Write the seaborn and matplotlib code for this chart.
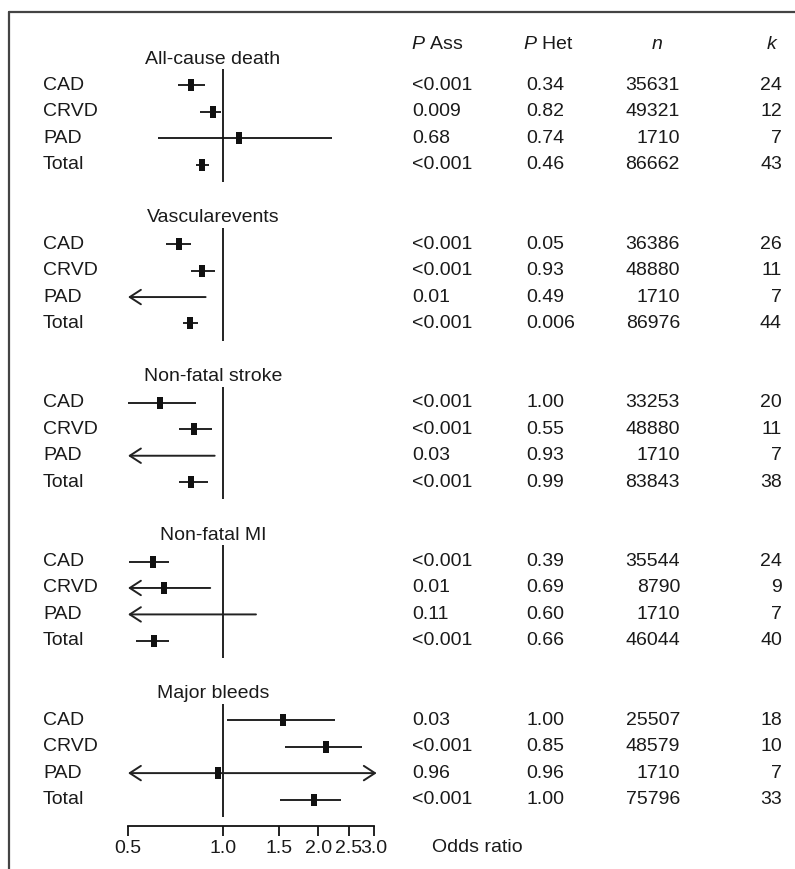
import numpy as np
import pandas as pd
import matplotlib
matplotlib.use("Agg")
import matplotlib.pyplot as plt
import matplotlib.transforms as mtransforms
from matplotlib.lines import Line2D
import seaborn as sns

# ---- data ----
groups = ["All-cause death", "Vascularevents", "Non-fatal stroke", "Non-fatal MI", "Major bleeds"]
subgroups = ["CAD", "CRVD", "PAD", "Total"]

# odds ratio and 95% CI per group (CAD, CRVD, PAD, Total); nan = off the 0.5-3.0 scale
or_est = [[0.79, 0.93, 1.12, 0.855],
          [0.725, 0.86, np.nan, 0.785],
          [0.633, 0.806, np.nan, 0.79],
          [0.60, 0.65, np.nan, 0.605],
          [1.55, 2.11, 0.96, 1.94]]
ci_lo = [[0.72, 0.846, 0.62, 0.82],
         [0.66, 0.79, np.nan, 0.746],
         [0.50, 0.725, np.nan, 0.725],
         [0.505, np.nan, np.nan, 0.53],
         [1.03, 1.57, np.nan, 1.51]]
ci_hi = [[0.875, 0.985, 2.21, 0.90],
         [0.79, 0.94, 0.88, 0.83],
         [0.82, 0.92, 0.94, 0.897],
         [0.676, 0.91, 1.27, 0.676],
         [2.26, 2.75, np.nan, 2.36]]

p_ass = [["<0.001", "0.009", "0.68", "<0.001"],
         ["<0.001", "<0.001", "0.01", "<0.001"],
         ["<0.001", "<0.001", "0.03", "<0.001"],
         ["<0.001", "0.01", "0.11", "<0.001"],
         ["0.03", "<0.001", "0.96", "<0.001"]]
p_het = [["0.34", "0.82", "0.74", "0.46"],
         ["0.05", "0.93", "0.49", "0.006"],
         ["1.00", "0.55", "0.93", "0.99"],
         ["0.39", "0.69", "0.60", "0.66"],
         ["1.00", "0.85", "0.96", "1.00"]]
n_obs = [[35631, 49321, 1710, 86662],
         [36386, 48880, 1710, 86976],
         [33253, 48880, 1710, 83843],
         [35544, 8790, 1710, 46044],
         [25507, 48579, 1710, 75796]]
k_studies = [[24, 12, 7, 43],
             [26, 11, 7, 44],
             [20, 11, 7, 38],
             [24, 9, 7, 40],
             [18, 10, 7, 33]]

xticks = [0.5, 1.0, 1.5, 2.0, 2.5, 3.0]
xticklabels = ["0.5", "1.0", "1.5", "2.0", "2.5", "3.0"]

# ---- long table ----
records = []
for g, grp in enumerate(groups):
    for s, sub in enumerate(subgroups):
        records.append(dict(group=grp, subgroup=sub, row=6 * g + 1 + s,
                            est=or_est[g][s], lo=ci_lo[g][s], hi=ci_hi[g][s],
                            pass_=p_ass[g][s], phet=p_het[g][s],
                            n_obs=n_obs[g][s], k_st=k_studies[g][s]))
df = pd.DataFrame(records)

sns.set_theme(style="ticks")
plt.rcParams["font.family"] = ["Liberation Sans", "DejaVu Sans"]
plt.rcParams["mathtext.fontset"] = "custom"
plt.rcParams["mathtext.it"] = "Liberation Sans:italic"
plt.rcParams["mathtext.rm"] = "Liberation Sans"

W, H = 795, 869
fig = plt.figure(figsize=(W / 100, H / 100), dpi=100)
row_px = 26.43
top_px = 59 - row_px          # row -1
bot_px = 826                  # row 29
ax = fig.add_axes([128 / W, 1 - bot_px / H, (374 - 128) / W, (bot_px - top_px) / H])

TXT = "#1a1a1a"
FS = 14
XMIN, XMAX = 0.5, 3.0

# CI lines and arrows
for _, r in df.iterrows():
    lo, hi, y = r["lo"], r["hi"], r["row"]
    kw = dict(color="#222222", lw=1.4, shrinkA=0, shrinkB=0, mutation_scale=20)
    if np.isnan(lo) and np.isnan(hi):
        ax.annotate("", xy=(3.06, y), xytext=(XMIN, y), annotation_clip=False,
                    arrowprops=dict(arrowstyle="<->,head_length=0.4,head_width=0.26", **kw))
    elif np.isnan(lo):
        ax.annotate("", xy=(XMIN, y), xytext=(hi, y), annotation_clip=False,
                    arrowprops=dict(arrowstyle="->,head_length=0.4,head_width=0.26", **kw))
    else:
        ax.hlines(y, lo, hi, color="#222222", lw=1.4)

# point estimates as small vertical boxes
box = [(-0.45, -1), (0.45, -1), (0.45, 1), (-0.45, 1)]
sns.scatterplot(data=df, x="est", y="row", marker=box, s=85, color="#111111",
                linewidth=0, ax=ax, zorder=3, legend=False)

# line of no effect for each group
for g in range(len(groups)):
    ax.vlines(1.0, 6 * g + 0.39, 6 * g + 4.65, color="#111111", lw=1.3)

ax.set_xscale("log")
ax.set_xlim(XMIN, XMAX)
ax.set_ylim(29, -1)
ax.set_xticks(xticks)
ax.set_xticklabels(xticklabels)
ax.xaxis.set_minor_locator(matplotlib.ticker.NullLocator())
ax.set_yticks([])
ax.set_xlabel("")
ax.set_ylabel("")
for side in ["top", "right", "left"]:
    ax.spines[side].set_visible(False)
ax.spines["bottom"].set_bounds(XMIN, XMAX)
ax.spines["bottom"].set_linewidth(1.3)
ax.spines["bottom"].set_color("#111111")
ax.tick_params(axis="x", direction="out", length=7, width=1.3, pad=3,
               labelsize=FS, colors="#111111", labelcolor=TXT)
ax.patch.set_alpha(0)

# text columns: x in figure pixels, y in data rows
tr = mtransforms.blended_transform_factory(fig.transFigure, ax.transData)


def fx(px):
    return px / W


def put(x, y, s, ha="left", **kw):
    ax.text(fx(x), y, s, transform=tr, ha=ha, va="center", fontsize=FS, color=TXT, **kw)


for g, grp in enumerate(groups):
    put(213, 6 * g, grp, ha="center")

for _, r in df.iterrows():
    y = r["row"]
    put(43, y, r["subgroup"])
    put(412, y, r["pass_"])
    put(526, y, r["phet"])
    put(680, y, str(r["n_obs"]), ha="right")
    put(782, y, str(r["k_st"]), ha="right")

hdr_row = -0.55
put(411, hdr_row, r"$\it{P}$ Ass")
put(523, hdr_row, r"$\it{P}$ Het")
put(657, hdr_row, "n", ha="center", style="italic")
put(776, hdr_row, "k", ha="right", style="italic")
put(432, 29.8, "Odds ratio")

# partial frame (top and left edges)
fig.add_artist(Line2D([fx(9), 1.0], [1 - 12 / H, 1 - 12 / H], transform=fig.transFigure,
                      color="#444444", lw=1.6))
fig.add_artist(Line2D([fx(9), fx(9)], [1 - 12 / H, 0.0], transform=fig.transFigure,
                      color="#444444", lw=1.6))

fig.savefig("out.png", dpi=100)
